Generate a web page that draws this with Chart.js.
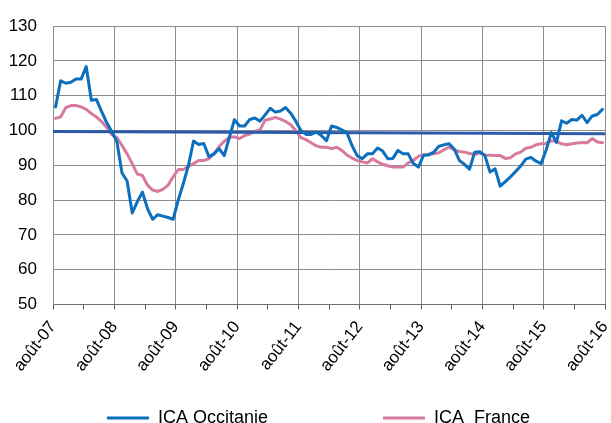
<!DOCTYPE html>
<html>
<head>
<meta charset="utf-8">
<script src="https://cdn.jsdelivr.net/npm/chart.js@4.4.0/dist/chart.umd.min.js"></script>
<style>
  html, body { margin: 0; padding: 0; background: #ffffff; }
  #wrap { width: 611px; height: 423px; }
</style>
</head>
<body>
<div id="wrap"><canvas id="chart" width="611" height="423"></canvas></div>
<script>
// tick labels, one per year (every 12 months)
var yearLabels = ["août-07", "août-08", "août-09", "août-10", "août-11",
                  "août-12", "août-13", "août-14", "août-15", "août-16"];

// monthly values
var occitanie = [
    106.8, 114.3, 113.6, 113.9, 114.8, 114.8, 118.4, 108.7, 108.9, 105.5, 102.3, 99.7,
    96.8, 87.8, 85.5, 76.3, 79.6, 82.3, 77.5, 74.5, 75.8, 75.4, 75.0, 74.5,
    80.0, 84.8, 90.0, 97.0, 96.0, 96.3, 92.5, 93.3, 94.8, 92.8, 98.0, 103.1,
    101.3, 101.3, 103.2, 103.6, 102.7, 104.5, 106.4, 105.3, 105.6, 106.6, 105.0, 102.7,
    100.0, 98.9, 98.9, 99.6, 98.6, 97.1, 101.3, 100.9, 100.2, 99.4, 95.7, 92.8,
    91.9, 93.3, 93.3, 95.0, 94.1, 91.9, 92.0, 94.3, 93.3, 93.3, 90.5, 89.5,
    92.9, 93.0, 93.8, 95.5, 95.9, 96.2, 94.7, 91.4, 90.3, 88.9, 93.8, 93.9,
    92.8, 88.1, 89.0, 84.0, 85.3, 86.7, 88.2, 89.8, 91.8, 92.3, 91.2, 90.5,
    94.5, 99.4, 96.6, 102.8, 102.1, 103.2, 103.0, 104.4, 102.3, 104.2, 104.6, 106.1
];
var france = [
    103.5, 103.9, 106.6, 107.2, 107.2, 106.8, 106.1, 104.9, 103.9, 102.6, 100.9, 98.8,
    98.0, 95.7, 93.3, 90.5, 87.5, 87.1, 84.3, 82.9, 82.5, 83.1, 84.3, 86.7,
    88.8, 88.8, 89.7, 90.5, 91.4, 91.4, 91.9, 93.3, 95.4, 96.9, 98.0, 98.2,
    97.7, 98.6, 99.0, 99.8, 100.2, 103.0, 103.3, 103.8, 103.3, 102.6, 101.7, 100.0,
    98.0, 97.4, 96.5, 95.6, 95.2, 95.2, 94.8, 95.2, 94.3, 93.0, 92.1, 91.4,
    91.0, 90.7, 91.9, 91.0, 90.3, 89.9, 89.5, 89.5, 89.5, 90.7, 91.4, 92.6,
    93.0, 93.2, 93.3, 93.6, 94.5, 95.2, 94.4, 94.0, 93.8, 93.4, 93.1, 93.5,
    93.0, 92.9, 92.8, 92.8, 92.0, 92.2, 93.3, 93.8, 94.9, 95.2, 95.9, 96.2,
    96.3, 97.1, 96.9, 96.2, 95.9, 96.2, 96.4, 96.6, 96.5, 97.7, 96.7, 96.5
];
// reference level line (start, end)
var moyenne = [99.7, 99.1];

var yTicks = [50, 60, 70, 80, 90, 100, 110, 120, 130];

var blue = "#0b6fbd";
var pink = "#d67a9f";
var navy = "#2b5ba6";
var gridColor = "#8c8c8c";

var xMin = -0.5;
var xMax = occitanie.length - 0.5;

function toPoints(values) {
    var points = [];
    for (var i = 0; i < values.length; i++) {
        points.push({x: i, y: values[i]});
    }
    return points;
}

function yearIndex(value) {
    var k = (value - xMin) / 12;
    return Math.abs(k - Math.round(k)) < 0.001 ? Math.round(k) : -1;
}

function spaces(n) {
    return new Array(n + 1).join(" ");
}

function makeChart() {
    var ctx = document.getElementById("chart");
    new Chart(ctx, {
        type: "line",
        data: {
            datasets: [{
                label: "ICA Occitanie",
                data: toPoints(occitanie),
                borderColor: blue,
                backgroundColor: blue,
                borderWidth: 3,
                pointRadius: 0,
                borderJoinStyle: "round",
                borderCapStyle: "round"
            }, {
                label: "moyenne",
                data: [{x: xMin, y: moyenne[0]}, {x: xMax, y: moyenne[1]}],
                borderColor: navy,
                backgroundColor: navy,
                borderWidth: 3,
                pointRadius: 0
            }, {
                label: "ICA  France",
                data: toPoints(france),
                borderColor: pink,
                backgroundColor: pink,
                borderWidth: 3,
                pointRadius: 0,
                borderJoinStyle: "round",
                borderCapStyle: "round"
            }]
        },
        options: {
            responsive: false,
            animation: false,
            devicePixelRatio: 1,
            layout: { padding: { top: 22, right: 6, left: 0, bottom: 0 } },
            scales: {
                x: {
                    type: "linear",
                    min: xMin,
                    max: xMax,
                    afterBuildTicks: function(scale) {
                        var ticks = [];
                        for (var v = xMin; v <= xMax + 0.001; v += 6) {
                            ticks.push({value: v});
                        }
                        scale.ticks = ticks;
                    },
                    afterFit: function(scale) {
                        scale.height = 94.5;
                        scale.paddingLeft = 0;
                        scale.paddingRight = 0;
                    },
                    ticks: {
                        autoSkip: false,
                        minRotation: 52,
                        maxRotation: 52,
                        padding: 8,
                        color: "#000000",
                        font: { family: "'Liberation Sans', Arial, sans-serif", size: 17 },
                        callback: function(value) {
                            var k = yearIndex(value);
                            return k >= 0 ? yearLabels[k] : "";
                        }
                    },
                    grid: {
                        color: function(c) {
                            if (c.tick && yearIndex(c.tick.value) >= 0) return gridColor;
                            return "rgba(0,0,0,0)";
                        },
                        tickColor: "#595959",
                        tickLength: 5,
                        lineWidth: 1
                    },
                    border: { color: "#6e6e6e", width: 1 }
                },
                y: {
                    min: 50,
                    max: 130,
                    afterBuildTicks: function(scale) {
                        scale.ticks = yTicks.map(function(v) { return {value: v}; });
                    },
                    afterFit: function(scale) {
                        scale.width = 53;
                    },
                    ticks: {
                        padding: 16,
                        color: "#000000",
                        font: { family: "'Liberation Sans', Arial, sans-serif", size: 17 }
                    },
                    grid: {
                        color: gridColor,
                        drawTicks: false,
                        lineWidth: 1
                    },
                    border: { color: gridColor, width: 1 }
                }
            },
            plugins: {
                tooltip: { enabled: false },
                legend: {
                    position: "bottom",
                    align: "end",
                    maxHeight: 24,
                    labels: {
                        boxWidth: 42,
                        boxHeight: 3,
                        padding: 10,
                        color: "#000000",
                        font: { family: "'Liberation Sans', Arial, sans-serif", size: 18 },
                        generateLabels: function(chart) {
                            return [{
                                text: "ICA Occitanie" + spaces(21),
                                fillStyle: blue, strokeStyle: blue, lineWidth: 0,
                                hidden: false, datasetIndex: 0
                            }, {
                                text: "ICA  France" + spaces(13),
                                fillStyle: pink, strokeStyle: pink, lineWidth: 0,
                                hidden: false, datasetIndex: 2
                            }];
                        }
                    }
                }
            }
        }
    });
}

makeChart();
</script>
</body>
</html>
